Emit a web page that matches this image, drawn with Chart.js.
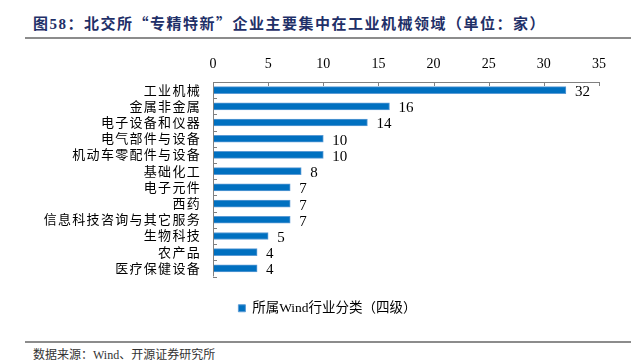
<!DOCTYPE html>
<html><head><meta charset="utf-8">
<script src="https://cdn.jsdelivr.net/npm/chart.js@4/dist/chart.umd.min.js"></script>
<style>
html,body{margin:0;padding:0;background:#fff;width:631px;height:360px;overflow:hidden;}
#title{position:absolute;left:33px;top:12px;font:bold 15px "Liberation Serif","Noto Sans CJK SC";color:#1F3068;white-space:nowrap;letter-spacing:1.5px;}
#title .q{font-family:"Noto Sans CJK SC";}
#l1{position:absolute;left:25px;top:37px;width:606px;height:2px;background:#8c8c8c;}
#l2{position:absolute;left:25px;top:341px;width:606px;height:2px;background:#8c8c8c;}
#src{position:absolute;left:33px;top:345px;font:12px "Liberation Serif","Noto Sans CJK SC";color:#333;white-space:nowrap;}
#wrap{position:absolute;left:0;top:40px;width:631px;height:285px;}
</style></head><body>
<div id="title">图58：北交所<span class="q">“</span>专精特新<span class="q">”</span>企业主要集中在工业机械领域（单位：家）</div>
<div id="l1"></div>
<div id="wrap"><canvas id="c"></canvas></div>
<div id="l2"></div>
<div id="src">数据来源：Wind、开源证券研究所</div>
<script>
const categories = ["工业机械","金属非金属","电子设备和仪器","电气部件与设备","机动车零配件与设备","基础化工","电子元件","西药","信息科技咨询与其它服务","生物科技","农产品","医疗保健设备"];
const values = [32,16,14,10,10,8,7,7,7,5,4,4];
const seriesName = "所属Wind行业分类（四级）";
const xTicks = [0,5,10,15,20,25,30,35];

const FONT = '"Liberation Serif","Noto Sans CJK SC"';

const decor = {
  id:'decor',
  afterDatasetsDraw(chart){
    const ctx = chart.ctx;
    const xs = chart.scales.x, ys = chart.scales.y;
    const a = chart.chartArea;
    ctx.save();
    ctx.strokeStyle = '#808080'; ctx.lineWidth = 1;
    ctx.beginPath(); ctx.moveTo(a.left, a.top+0.5); ctx.lineTo(a.right, a.top+0.5); ctx.stroke();
    ctx.beginPath(); ctx.moveTo(a.left+0.5, a.top); ctx.lineTo(a.left+0.5, a.bottom); ctx.stroke();
    xs.ticks.forEach(t=>{
      const px = Math.round(xs.getPixelForValue(t.value))+0.5;
      ctx.beginPath(); ctx.moveTo(px, a.top); ctx.lineTo(px, a.top+4); ctx.stroke();
    });
    const n = categories.length;
    for(let i=0;i<=n;i++){
      const py = Math.round(ys.getPixelForValue(i-0.5))+0.5;
      ctx.beginPath(); ctx.moveTo(a.left, py); ctx.lineTo(a.left+4, py); ctx.stroke();
    }
    // category labels (letter-spaced) at the y scale's pixel positions
    ctx.fillStyle = '#000';
    ctx.font = '13px ' + FONT;
    ctx.letterSpacing = '1.3px';
    ctx.textBaseline = 'middle'; ctx.textAlign = 'right';
    categories.forEach((c,i)=>{
      ctx.fillText(c, a.left - 12, ys.getPixelForValue(i) + 1);
    });
    ctx.letterSpacing = '0px';
    // value labels
    ctx.font = '15px ' + FONT;
    ctx.textAlign = 'left';
    chart.getDatasetMeta(0).data.forEach((bar,i)=>{
      ctx.fillText(String(values[i]), bar.x + 9, bar.y + 2);
    });
    ctx.restore();
  }
};

new Chart(document.getElementById('c'), {
  type:'bar',
  data:{labels:categories, datasets:[{label:seriesName, data:values,
    backgroundColor:'#0070C0', borderColor:'#5B9BD5', borderWidth:1, barThickness:7}]},
  options:{
    indexAxis:'y', responsive:true, maintainAspectRatio:false, animation:false,
    layout:{padding:{left:56,right:32,top:0,bottom:0}},
    plugins:{
      legend:{position:'bottom', labels:{boxWidth:7, boxHeight:7, padding:25, color:'#000',
        font:{family:FONT, size:13.5}}},
      tooltip:{enabled:false}
    },
    scales:{
      x:{position:'top', min:0, max:35, afterBuildTicks(s){ s.ticks = xTicks.map(v=>({value:v})); },
        grid:{display:false, drawTicks:false}, border:{display:false},
        ticks:{padding:9, color:'#000', font:{family:FONT, size:14}},
        afterFit(s){ s.height = 42; }},
      y:{grid:{display:false, drawTicks:false}, border:{display:false},
        ticks:{display:false},
        afterFit(s){ s.width = 157; }}
    }
  },
  plugins:[decor]
});
</script>
</body></html>
